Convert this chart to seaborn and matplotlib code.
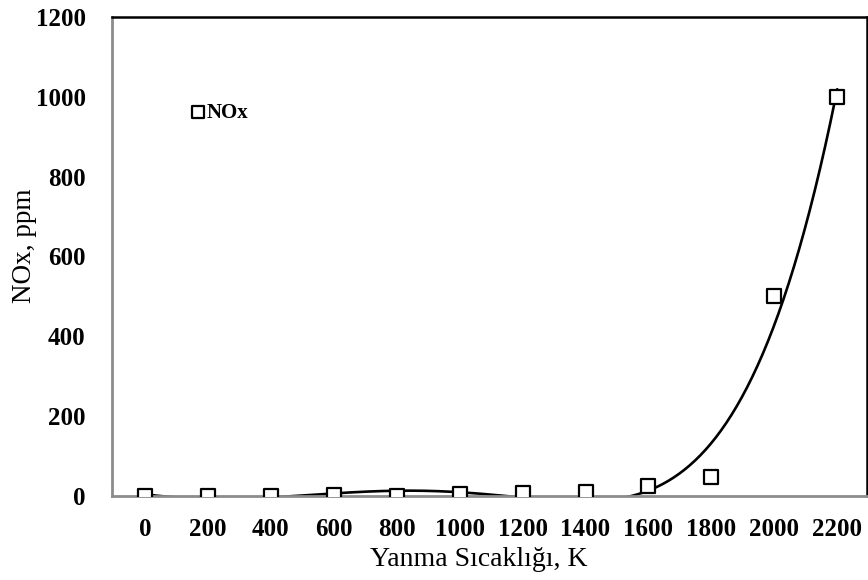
import numpy as np
import pandas as pd
import matplotlib
matplotlib.use("Agg")
import matplotlib.pyplot as plt
import seaborn as sns

# data
temperature = [0, 200, 400, 600, 800, 1000, 1200, 1400, 1600, 1800, 2000, 2200]
nox_ppm = [0, 0, 0, 2, 1, 4, 7, 9, 25, 48, 500, 1000]
x_ticks = [0, 200, 400, 600, 800, 1000, 1200, 1400, 1600, 1800, 2000, 2200]
y_ticks = [0, 200, 400, 600, 800, 1000, 1200]
fit_order = 5


def plot_chart():
    sns.set_style("white")
    plt.rcParams['font.family'] = ['Liberation Serif', 'DejaVu Serif']
    plt.rcParams['text.color'] = 'black'
    plt.rcParams['xtick.color'] = 'black'
    plt.rcParams['ytick.color'] = 'black'
    plt.rcParams['axes.labelcolor'] = 'black'

    df = pd.DataFrame({"T": temperature, "NOx": nox_ppm})

    # polynomial trendline like the spreadsheet one
    coef = np.polyfit(df["T"], df["NOx"], fit_order)
    xs = np.linspace(min(temperature), max(temperature), 400)
    fit = pd.DataFrame({"T": xs, "NOx": np.polyval(coef, xs)})

    fig = plt.figure(figsize=(8.68, 5.8), dpi=100)
    ax = fig.add_axes([0.129, 0.145, 0.870, 0.826])

    sns.lineplot(data=fit, x="T", y="NOx", ax=ax, color="black",
                 linewidth=1.9, label="_nolegend_")
    sns.scatterplot(data=df, x="T", y="NOx", ax=ax, marker="s", s=110,
                    facecolor="white", edgecolor="black", linewidth=1.6,
                    label="NOx", zorder=5)

    ax.set_xlim(-105, 2295)
    ax.set_ylim(0, 1200)
    ax.set_xticks(x_ticks)
    ax.set_yticks(y_ticks)
    ax.tick_params(axis="both", labelsize=18, length=5, width=1.2,
                   color="#8c8c8c", direction="out")
    ax.tick_params(axis="x", pad=11)
    ax.tick_params(axis="y", pad=14)
    for lab in ax.get_xticklabels() + ax.get_yticklabels():
        lab.set_fontweight("bold")

    ax.spines["left"].set_color("#8c8c8c")
    ax.spines["bottom"].set_color("#8c8c8c")
    ax.spines["left"].set_linewidth(2)
    ax.spines["bottom"].set_linewidth(2)
    ax.spines["top"].set_color("black")
    ax.spines["right"].set_color("black")
    ax.spines["top"].set_linewidth(1.8)
    ax.spines["right"].set_linewidth(1.8)

    ax.set_xlabel("Yanma Sıcaklığı, K", fontsize=20)
    ax.set_ylabel("NOx, ppm", fontsize=19.5)
    ax.xaxis.set_label_coords(0.486, -0.106)
    ax.yaxis.set_label_coords(-0.099, 0.522)

    ax.legend(loc="center left", bbox_to_anchor=(0.104, 0.80), frameon=False,
              prop={"weight": "bold", "size": 15}, handletextpad=0.05,
              handlelength=0.7, borderpad=0, borderaxespad=0, markerscale=0.85)

    fig.savefig("out.png", dpi=100)


if __name__ == "__main__":
    plot_chart()
